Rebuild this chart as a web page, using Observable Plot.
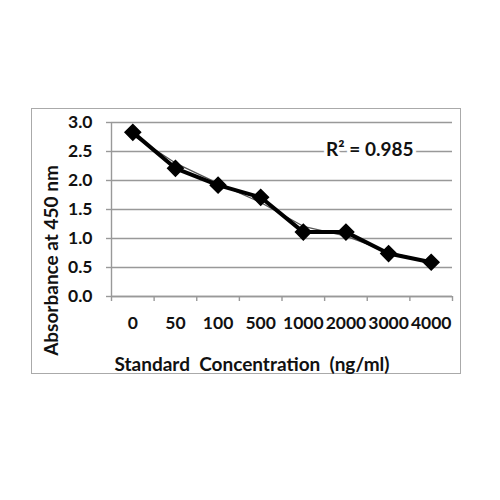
<!DOCTYPE html>
<html><head><meta charset="utf-8">
<script src="https://cdn.jsdelivr.net/npm/d3@7"></script>
<script src="https://cdn.jsdelivr.net/npm/@observablehq/plot@0.6"></script>
<style>
html,body{margin:0;padding:0;background:#fff;}
#wrap{position:relative;width:500px;height:500px;overflow:hidden;}
#border{position:absolute;left:31px;top:108px;width:428px;height:264px;border:1.5px solid #aaa;pointer-events:none;}
#wrap svg{position:absolute;left:0;top:0;}
</style></head><body><div id="wrap"><div id="border"></div></div>
<script>
const categories = ["0", "50", "100", "500", "1000", "2000", "3000", "4000"];
const absorbance = [2.83, 2.21, 1.92, 1.71, 1.11, 1.11, 0.74, 0.59];
const trendline = [2.78, 2.30, 1.95, 1.62, 1.21, 1.04, 0.77, 0.58];
const yTicks = [0, 0.5, 1, 1.5, 2, 2.5, 3];
const rSquaredLabel = "R² = 0.985";
const yTitle = "Absorbance at 450 nm";
const xTitle = "Standard  Concentration  (ng/ml)";

const data = categories.map((c, i) => ({i, c, a: absorbance[i], t: trendline[i]}));
const centers = d3.range(categories.length);
const boundaries = d3.range(categories.length + 1).map(k => k - 0.5);

const chart = Plot.plot({
  width: 500,
  height: 500,
  marginLeft: 111,
  marginRight: 48,
  marginTop: 122,
  marginBottom: 204,
  style: {fontFamily: "Lato", fontWeight: "bold", fontSize: "17.5px", background: "transparent", color: "#111"},
  x: {type: "linear", domain: [-0.5, categories.length - 0.5]},
  y: {domain: [0, 3]},
  marks: [
    Plot.gridY(yTicks, {stroke: "#999", strokeOpacity: 1, strokeWidth: 1.6}),
    Plot.axisY(yTicks, {tickSize: 5, tickPadding: 14, stroke: "#999", strokeWidth: 1.4, label: null, tickFormat: d3.format(".1f")}),
    Plot.ruleX([-0.5], {stroke: "#999", strokeWidth: 1.4}),
    Plot.ruleY([0], {stroke: "#999", strokeWidth: 1.4}),
    Plot.axisX(boundaries, {tickSize: 5, tickFormat: () => "", stroke: "#999", strokeWidth: 1.4, label: null}),
    Plot.axisX(centers, {tickSize: 0, tickPadding: 20, tickFormat: i => categories[i], label: null}),
    Plot.line(data, {x: "i", y: "t", stroke: "#555", strokeWidth: 1.2}),
    Plot.line(data, {x: "i", y: "a", stroke: "#000", strokeWidth: 4, strokeLinejoin: "round"}),
    Plot.dot(data, {x: "i", y: "a", symbol: "diamond2", r: 7, fill: "#000", stroke: "#000", strokeWidth: 1.5}),
    Plot.text([rSquaredLabel], {frameAnchor: "top-right", textAnchor: "end", lineAnchor: "middle", dx: -39, dy: 27, fontSize: 19, fill: "#111", stroke: "white", strokeWidth: 7}),
    Plot.text([yTitle], {frameAnchor: "left", textAnchor: "middle", lineAnchor: "middle", rotate: -90, dx: -60, dy: 51, fontSize: 19, fill: "#111"}),
    Plot.text([xTitle], {frameAnchor: "bottom", textAnchor: "middle", lineAnchor: "middle", dx: -30, dy: 68, fontSize: 19, fill: "#111"})
  ]
});
document.getElementById("wrap").appendChild(chart);
</script>
</body></html>
